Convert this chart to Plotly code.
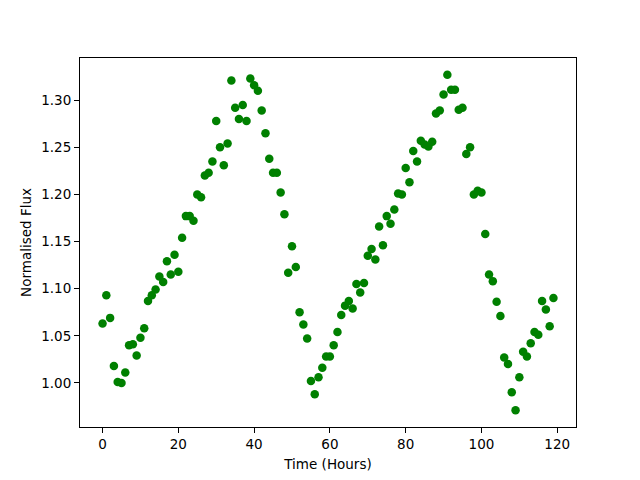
import numpy as np
import plotly.graph_objects as go

time_hours = list(range(120))
flux = [
    1.063, 1.093, 1.069, 1.018, 1.001, 1.000, 1.011, 1.040, 1.041, 1.029,
    1.048, 1.058, 1.087, 1.093, 1.099, 1.113, 1.107, 1.129, 1.115, 1.136,
    1.118, 1.154, 1.177, 1.177, 1.172, 1.200, 1.197, 1.220, 1.223, 1.235,
    1.278, 1.250, 1.231, 1.254, 1.321, 1.292, 1.280, 1.295, 1.278, 1.323,
    1.316, 1.310, 1.289, 1.265, 1.238, 1.223, 1.223, 1.202, 1.179, 1.117,
    1.145, 1.123, 1.075, 1.062, 1.047, 1.002, 0.988, 1.006, 1.016, 1.028,
    1.028, 1.040, 1.054, 1.072, 1.082, 1.087, 1.079, 1.105, 1.096, 1.106,
    1.135, 1.142, 1.131, 1.166, 1.146, 1.177, 1.169, 1.184, 1.201, 1.200,
    1.228, 1.213, 1.246, 1.235, 1.257, 1.253, 1.251, 1.256, 1.286, 1.289,
    1.306, 1.327, 1.311, 1.311, 1.290, 1.292, 1.243, 1.250, 1.200, 1.204,
    1.202, 1.158, 1.115, 1.108, 1.086, 1.071, 1.027, 1.020, 0.990, 0.971,
    1.006, 1.033, 1.028, 1.042, 1.054, 1.051, 1.087, 1.078, 1.060, 1.090,
]
x_ticks = [0, 20, 40, 60, 80, 100, 120]
y_ticks = [1.00, 1.05, 1.10, 1.15, 1.20, 1.25, 1.30]

def padded(vals, frac=0.05):
    lo, hi = min(vals), max(vals)
    m = (hi - lo) * frac
    return [lo - m, hi + m]

fig = go.Figure(go.Scatter(
    x=time_hours, y=flux, mode="markers",
    marker=dict(color="#008000", size=8.5, line=dict(width=0)),
))

font = dict(family="DejaVu Sans", size=13.5, color="black")
axis_common = dict(
    showgrid=False, zeroline=False, showline=True, linecolor="black",
    linewidth=1.1, mirror=True, ticks="outside", ticklen=5, tickwidth=1.1,
    tickcolor="black", tickfont=font, automargin=False,
)
fig.update_layout(
    width=640, height=480,
    margin=dict(l=72, r=72, t=50, b=61),
    paper_bgcolor="white", plot_bgcolor="white",
    font=font, showlegend=False,
    xaxis=dict(range=padded(time_hours), tickvals=x_ticks,
               ticktext=[str(v) for v in x_ticks],
               title=dict(text="Time (Hours)", font=font, standoff=8),
               **axis_common),
    yaxis=dict(range=padded(flux), tickvals=y_ticks,
               ticktext=[f"{v:.2f}" for v in y_ticks],
               title=dict(text="Normalised Flux", font=font, standoff=6),
               **axis_common),
)
fig.write_html("out.html")
